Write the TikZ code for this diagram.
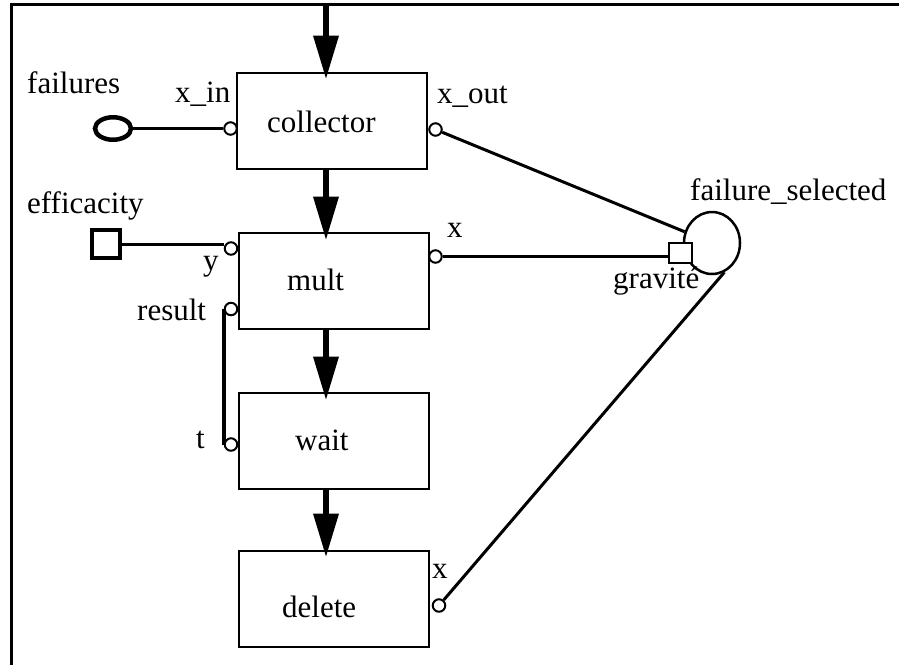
\documentclass[tikz,border=0pt]{standalone}
\usepackage{fontspec}
\setmainfont{Liberation Serif}
\usetikzlibrary{arrows.meta,shapes.geometric,calc}
\begin{document}
\begin{tikzpicture}[x=1pt,y=-1pt,
  blk/.style={draw,line width=2.8pt,minimum width=190pt,minimum height=96pt,inner sep=0pt},
  lbl/.style={anchor=base west,inner sep=0pt,font=\fontsize{31}{31}\selectfont},
  port/.style={circle,draw,line width=2pt,fill=white,minimum size=12.5pt,inner sep=0pt},
  flow/.style={line width=6.5pt,-{Triangle[length=44pt,width=24pt]}},
  wire/.style={line width=3pt}]
\useasboundingbox (0,0) rectangle (899,665);
% frame
\draw[line width=3pt] (11,665) -- (11,4) -- (899,4);
\coordinate (top) at (326,4);
% blocks
\node[blk] (collector) at (332,121) {};
\node[blk] (mult) at (334,281) {};
\node[blk] (wait) at (334,441) {};
\node[blk] (delete) at (334,599) {};
\node[lbl] (tcollector) at (267,132) {collector};
\node[lbl] (tmult) at (287,290) {mult};
\node[lbl] (twait) at (295,450) {wait};
\node[lbl] (tdelete) at (282,617) {delete};
% flow arrows
\draw[flow] (top) -- ($(top |- collector.north)+(0,8)$);
\draw[flow] (collector.south -| top) -- ($(mult.north -| top)+(0,9)$);
\draw[flow] (mult.south -| top) -- ($(wait.north -| top)+(0,9)$);
\draw[flow] (wait.south -| top) -- ($(delete.north -| top)+(0,8)$);
% external places
\node[ellipse,draw,line width=4.5pt,minimum width=36pt,minimum height=22.5pt,inner sep=0pt] (failures) at (113,128.5) {};
\node[rectangle,draw,line width=4pt,minimum width=28pt,minimum height=28pt,inner sep=0pt] (efficacity) at (106,244) {};
\node[ellipse,draw,line width=2.5pt,minimum width=56pt,minimum height=62pt,inner sep=0pt] (fs) at (712,243) {};
\node[rectangle,draw,line width=2pt,fill=white,minimum width=23pt,minimum height=20pt,inner sep=0pt] (grav) at (680.5,252.5) {};
% ports
\node[port] (xin) at (230.5,128.5) {};
\node[port] (xout) at (435.5,129.5) {};
\node[port] (yport) at (231,248.5) {};
\node[port] (mx) at (435.5,256.5) {};
\node[port] (result) at (231,309) {};
\node[port] (tport) at (231,444.5) {};
\node[port] (dx) at (439,605.5) {};
% wires
\draw[wire] (failures.east) -- (failures.east -| xin.west);
\draw[wire] (efficacity.east) -- (efficacity.east -| yport.west);
\draw[wire] (xout) -- (fs);
\draw[wire] (mx.east) -- (mx.east -| grav.west);
\draw[wire] (dx) -- (fs.-67);
\draw[line width=4pt] (result.west) -- (tport.west);
% labels
\node[lbl] at (27,93) {failures};
\node[lbl] at (175,102) {x\_in};
\node[lbl] at (437,103) {x\_out};
\node[lbl] at (27,213) {efficacity};
\node[lbl] at (203,270) {y};
\node[lbl] at (447,237) {x};
\node[lbl] at (137,320) {result};
\node[lbl] at (196,448) {t};
\node[lbl] at (432,578) {x};
\node[lbl] at (690,200) {failure\_selected};
\node[lbl] at (613,288) {gravité};
\end{tikzpicture}
\end{document}
